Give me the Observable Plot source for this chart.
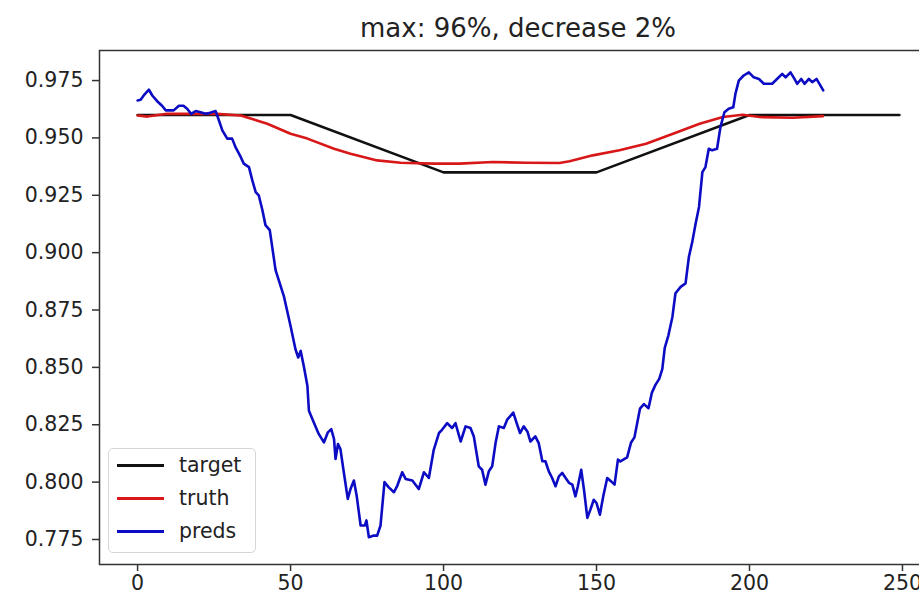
<!DOCTYPE html>
<html>
<head>
<meta charset="utf-8">
<script src="https://cdn.jsdelivr.net/npm/d3@7"></script>
<script src="https://cdn.jsdelivr.net/npm/@observablehq/plot@0.6"></script>
<style>
  html, body { margin: 0; padding: 0; background: white; overflow: hidden; }
  #wrap { position: relative; width: 919px; height: 596px; overflow: hidden; }
  #title { height: 34px; padding-top: 14px; padding-left: 117px; width: 802px;
           font-family: "DejaVu Sans", sans-serif; font-size: 26px; line-height: 29px;
           text-align: center; color: #222; white-space: nowrap; }
  #legend { position: absolute; left: 108px; top: 448px; width: 146px; height: 103px;
            border: 1px solid #d6d6d6; border-radius: 5px; background: rgba(255,255,255,0.85);
            font-family: "DejaVu Sans", sans-serif; font-size: 20.5px; color: #222; }
  .row { position: absolute; left: 0; height: 30px; width: 146px; }
  .sw { position: absolute; left: 8px; top: 14px; width: 47px; height: 2.6px; }
  .lab { position: absolute; left: 70px; top: 0; line-height: 30px; }
</style>
</head>
<body>
<div id="wrap">
  <div id="title"></div>
  <div id="chart"></div>
  <div id="legend"></div>
</div>
<script>
const titleText = "max: 96%, decrease 2%";
const xTicks = [0, 50, 100, 150, 200, 250];
const yTicks = [0.775, 0.8, 0.825, 0.85, 0.875, 0.9, 0.925, 0.95, 0.975];

const seriesNames = ["target", "truth", "preds"];
const seriesColors = ["#111111", "#d81818", "#0c0cc4"];

const targetX = [0, 50, 100, 150, 200, 249];
const targetY = [0.96, 0.96, 0.935, 0.935, 0.96, 0.96];

const truthX = [0, 3.2, 9.7, 26, 33.7, 42.4, 50, 55.5, 64.2, 69.6, 78.3, 86, 96.8, 105.2, 116.1, 127, 137.9, 141.2, 148.8, 157.5, 166.2, 175, 183.7, 191.3, 197.8, 203.3, 214.2, 224];
const truthY = [0.9598, 0.9593, 0.9605, 0.9605, 0.9598, 0.9562, 0.9518, 0.9497, 0.9453, 0.9431, 0.9402, 0.9392, 0.9388, 0.9388, 0.9395, 0.9392, 0.9391, 0.9398, 0.9424, 0.9446, 0.9475, 0.9518, 0.9562, 0.9591, 0.9601, 0.9591, 0.9588, 0.9595];

const predX = [0, 1, 2, 3.7, 4.8, 6.4, 8, 9.2, 11.8, 13.5, 15, 16.2, 17.5, 19, 20.6, 22.2, 23.3, 25.5, 26.6, 27.7, 29.3, 30.9, 32, 33.7, 34.7, 36.4, 37.5, 38.6, 39.6, 40.8, 41.8, 43.2, 44, 45.1, 47.8, 50, 51.6, 52.5, 53.3, 54.3, 55.5, 56, 57.6, 59.2, 60.9, 62.2, 63.3, 64.2, 64.7, 65.5, 66.3, 67.4, 68.7, 69.6, 70.7, 71.6, 72.9, 74.3, 74.8, 75.6, 77.2, 78.3, 79.4, 80.7, 82.1, 83.8, 84.9, 86.5, 87.6, 89.8, 91.9, 93.6, 95.2, 96.8, 98.5, 99.5, 101.2, 102.8, 103.9, 105.6, 107.2, 108.8, 109.9, 111.5, 112.6, 113.7, 114.8, 115.9, 117, 118.1, 119.7, 120.8, 122.8, 123.9, 125, 126.2, 127.4, 128.4, 130, 131.1, 132.3, 133.3, 134.4, 135.5, 136.6, 137.7, 138.8, 139.9, 141, 142.1, 143.1, 143.9, 145, 145.9, 147, 148, 149.1, 150, 151.1, 152.2, 153.5, 154.8, 155.9, 157, 157.8, 160, 161.3, 162.4, 164.2, 165.5, 167, 168.1, 169.3, 170.5, 171.5, 172.3, 173.5, 174.8, 175.8, 177.5, 179.1, 180.2, 181.3, 182.4, 183.5, 184.6, 185.6, 186.7, 187.8, 189.4, 190.5, 191.8, 193.2, 194.7, 195.4, 196.5, 198.1, 199.8, 201.4, 203.1, 204.7, 207.4, 209, 210.7, 211.8, 213.4, 214.7, 215.6, 216.9, 218, 219.4, 220.5, 221.9, 223.2, 224.1];
const predY = [0.9663, 0.9666, 0.9685, 0.971, 0.9685, 0.966, 0.964, 0.962, 0.962, 0.964, 0.964, 0.9627, 0.9605, 0.9617, 0.9612, 0.9605, 0.9608, 0.9617, 0.9576, 0.9533, 0.9497, 0.9497, 0.946, 0.9417, 0.9388, 0.9373, 0.9315, 0.9264, 0.925, 0.9185, 0.912, 0.9098, 0.9025, 0.8924, 0.8811, 0.868, 0.8579, 0.8543, 0.8572, 0.8507, 0.842, 0.8311, 0.826, 0.821, 0.8173, 0.8217, 0.8231, 0.8188, 0.8101, 0.8166, 0.8144, 0.8043, 0.7927, 0.797, 0.8007, 0.7941, 0.7811, 0.7811, 0.7833, 0.776, 0.7767, 0.7767, 0.7811, 0.8, 0.7977, 0.7956, 0.7985, 0.8043, 0.8014, 0.8007, 0.797, 0.8043, 0.8018, 0.8141, 0.8214, 0.8228, 0.8257, 0.8236, 0.8257, 0.8177, 0.8243, 0.8236, 0.8199, 0.8069, 0.8054, 0.7989, 0.8047, 0.8069, 0.817, 0.8243, 0.8236, 0.8272, 0.8303, 0.8257, 0.8214, 0.8243, 0.8221, 0.8177, 0.8199, 0.817, 0.8091, 0.8091, 0.8047, 0.8018, 0.7982, 0.8025, 0.804, 0.8018, 0.7997, 0.7989, 0.7938, 0.7982, 0.8054, 0.7967, 0.7844, 0.788, 0.7923, 0.7909, 0.7858, 0.7938, 0.8018, 0.8003, 0.7989, 0.8098, 0.809, 0.8108, 0.8173, 0.8195, 0.832, 0.834, 0.8322, 0.839, 0.8425, 0.845, 0.8492, 0.8585, 0.864, 0.872, 0.8823, 0.8851, 0.8866, 0.8982, 0.9047, 0.9127, 0.9199, 0.9351, 0.9373, 0.9453, 0.9446, 0.9453, 0.9547, 0.9612, 0.9627, 0.9634, 0.9692, 0.975, 0.9772, 0.9786, 0.9764, 0.9757, 0.9736, 0.9736, 0.9757, 0.9779, 0.9764, 0.9786, 0.9757, 0.9736, 0.9757, 0.9736, 0.9757, 0.9743, 0.9757, 0.9728, 0.9707];

const xDomain = [-12.45, 261.45];
const yDomain = [0.7641, 0.9881];

const toRows = (xs, ys) => xs.map((x, i) => ({x, y: ys[i]}));
const target = toRows(targetX, targetY);
const truth = toRows(truthX, truthY);
const preds = toRows(predX, predY);

document.getElementById("title").textContent = titleText;

const chart = Plot.plot({
  width: 919,
  height: 548,
  marginLeft: 99,
  marginRight: -18,
  marginTop: 2,
  marginBottom: 32,
  style: {fontFamily: "DejaVu Sans, sans-serif", fontSize: "20.5px", color: "#222", background: "white", overflow: "hidden"},
  x: {domain: xDomain},
  y: {domain: yDomain},
  marks: [
    Plot.line(target, {x: "x", y: "y", stroke: seriesColors[0], strokeWidth: 2.6}),
    Plot.line(truth, {x: "x", y: "y", stroke: seriesColors[1], strokeWidth: 2.6}),
    Plot.line(preds, {x: "x", y: "y", stroke: seriesColors[2], strokeWidth: 2.6}),
    Plot.frame({stroke: "#333", strokeWidth: 1.5}),
    Plot.axisX({ticks: xTicks, tickSize: 7, tickPadding: 4, strokeWidth: 1.5, stroke: "#333", label: null, fill: "#222"}),
    Plot.axisY({ticks: yTicks, tickFormat: d3.format(".3f"), tickSize: 7, tickPadding: 9, strokeWidth: 1.5, stroke: "#333", label: null, fill: "#222"})
  ]
});
document.getElementById("chart").appendChild(chart);

const legend = document.getElementById("legend");
seriesNames.forEach((name, i) => {
  const row = document.createElement("div");
  row.className = "row";
  row.style.top = (1 + i * 33) + "px";
  const sw = document.createElement("div");
  sw.className = "sw";
  sw.style.background = seriesColors[i];
  const lab = document.createElement("div");
  lab.className = "lab";
  lab.textContent = name;
  row.appendChild(sw);
  row.appendChild(lab);
  legend.appendChild(row);
});
</script>
</body>
</html>
